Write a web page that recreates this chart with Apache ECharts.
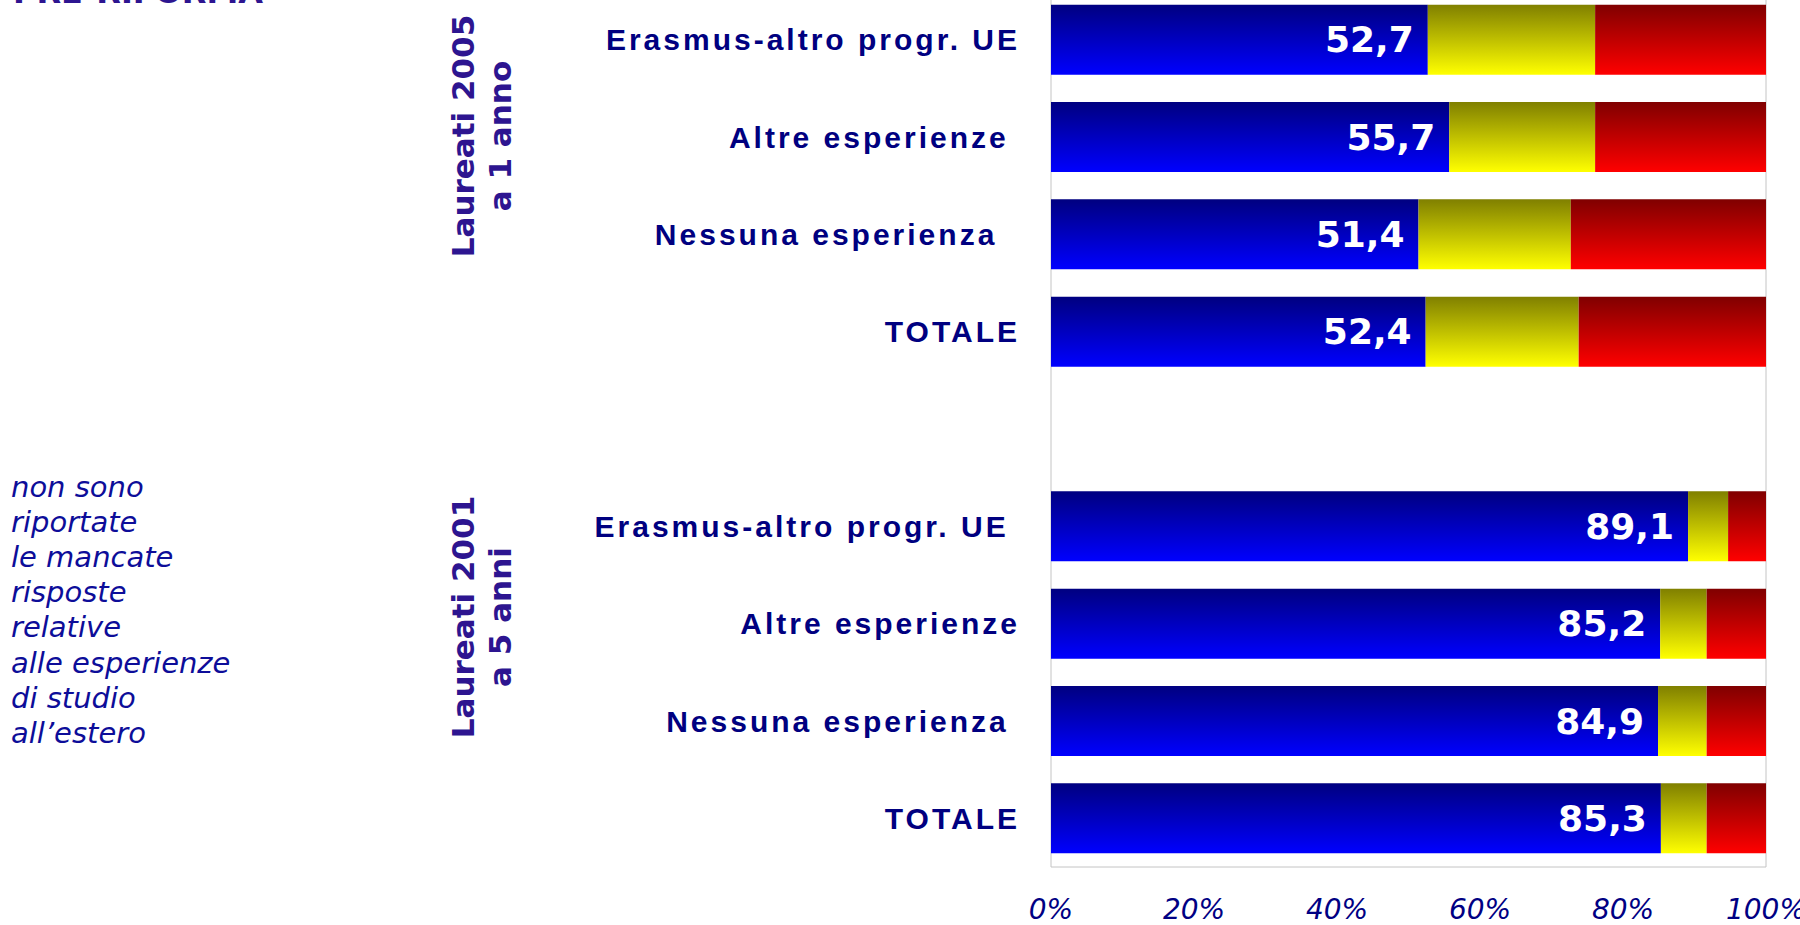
<!DOCTYPE html>
<html>
<head>
<meta charset="utf-8">
<script src="https://cdn.jsdelivr.net/npm/echarts@6/dist/echarts.min.js"></script>
<style>
  html, body { margin: 0; padding: 0; background: #fff; }
  #chart { width: 1800px; height: 925px; }
  #chart text { white-space: pre; }
  #chart text[fill="#000080"], #chart text[fill="rgb(0,0,128)"] { letter-spacing: 3px; }
</style>
</head>
<body>
<div id="chart"></div>
<script>
// Categories (top to bottom); trailing spaces as in the source labels
const categories = [
  'Erasmus-altro progr. UE', 'Altre esperienze ', 'Nessuna esperienza  ', 'TOTALE',
  '',
  'Erasmus-altro progr. UE ', 'Altre esperienze', 'Nessuna esperienza ', 'TOTALE'
];
const seriesNames = ['Lavora', 'Non lavora ma cerca', 'Non lavora e non cerca'];
const lavora        = [52.7, 55.7, 51.4, 52.4, null, 89.1, 85.2, 84.9, 85.3];
const cerca         = [23.4, 20.4, 21.3, 21.4, null, 5.6, 6.5, 6.8, 6.4];
const nonCerca      = [23.9, 23.9, 27.3, 26.2, null, 5.3, 8.3, 8.3, 8.3];
const xTickLabels   = ['0%', '20%', '40%', '60%', '80%', '100%'];
const groupLabels   = ['Laureati 2005\na 1 anno', 'Laureati 2001\na 5 anni'];
const noteLines     = ['non sono', 'riportate', 'le mancate', 'risposte', 'relative', 'alle esperienze', 'di studio', 'all\u2019estero'];
const sectionTitle  = 'PRE-RIFORMA';

function grad(top, bottom) {
  return new echarts.graphic.LinearGradient(0, 0, 0, 1, [
    { offset: 0, color: top }, { offset: 1, color: bottom }
  ]);
}

const chart = echarts.init(document.getElementById('chart'), null, { renderer: 'svg' });
const option = {
  animation: false,
  backgroundColor: '#ffffff',
  grid: {
    left: 1051, right: 34, top: -9, bottom: 58,
    outerBoundsMode: 'none', containLabel: false,
    show: true, borderColor: '#C4C4C4', borderWidth: 1, backgroundColor: 'transparent'
  },
  xAxis: {
    type: 'value', min: 0, max: 100, interval: 20,
    axisLine: { show: false }, axisTick: { show: false }, splitLine: { show: false },
    axisLabel: {
      margin: 28,
      color: '#000083', fontStyle: 'italic', fontFamily: 'DejaVu Sans', fontSize: 28,
      formatter: v => xTickLabels[Math.round(v / 20)]
    }
  },
  yAxis: {
    type: 'category', inverse: true, data: categories,
    axisLine: { show: false }, axisTick: { show: false }, splitLine: { show: false },
    axisLabel: {
      margin: 31,
      color: '#000080', fontWeight: 'bold', fontFamily: 'Liberation Sans', fontSize: 30
    }
  },
  series: [
    {
      name: seriesNames[0], type: 'bar', stack: 'tot', barWidth: 70, data: lavora,
      itemStyle: { color: grad('#000080', '#0000FF') },
      label: {
        show: true, position: 'insideRight', distance: 14,
        color: '#ffffff', fontWeight: 'bold', fontFamily: 'DejaVu Sans', fontSize: 36,
        formatter: p => p.value == null ? '' : p.value.toFixed(1).replace('.', ',')
      }
    },
    {
      name: seriesNames[1], type: 'bar', stack: 'tot', barWidth: 70, data: cerca,
      itemStyle: { color: grad('#808000', '#FFFF00') }
    },
    {
      name: seriesNames[2], type: 'bar', stack: 'tot', barWidth: 70, data: nonCerca,
      itemStyle: { color: grad('#800000', '#FF0000') }
    }
  ],
  graphic: [
    {
      type: 'text', left: 13, top: -24,
      style: { text: sectionTitle, font: 'bold 32px "DejaVu Sans"', fill: '#2D1590' }
    },
    {
      type: 'text', x: 481, y: 136, rotation: Math.PI / 2,
      style: { text: groupLabels[0], font: 'bold 31px "DejaVu Sans"', fill: '#2D1590',
               align: 'center', verticalAlign: 'middle', lineHeight: 37 }
    },
    {
      type: 'text', x: 481, y: 617, rotation: Math.PI / 2,
      style: { text: groupLabels[1], font: 'bold 31px "DejaVu Sans"', fill: '#2D1590',
               align: 'center', verticalAlign: 'middle', lineHeight: 37 }
    },
    {
      type: 'text', x: 11, y: 469,
      style: { text: noteLines.join('\n'), font: 'italic 29px "DejaVu Sans"', fill: '#0D0D99',
               align: 'left', verticalAlign: 'top', lineHeight: 35.2 }
    }
  ]
};
chart.setOption(option);
</script>
</body>
</html>
